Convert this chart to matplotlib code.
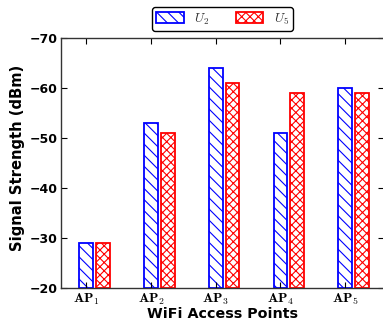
import matplotlib
matplotlib.use("Agg")
import matplotlib.pyplot as plt
import numpy as np

categories = [r"$\mathbf{AP}_1$", r"$\mathbf{AP}_2$", r"$\mathbf{AP}_3$", r"$\mathbf{AP}_4$", r"$\mathbf{AP}_5$"]
u2 = [-29, -53, -64, -51, -60]
u5 = [-29, -51, -61, -59, -59]
yticks = [-70, -60, -50, -40, -30, -20]

plt.rcParams['mathtext.fontset'] = 'cm'
plt.rcParams['hatch.linewidth'] = 0.8

fig = plt.figure(figsize=(3.83, 3.23), dpi=100)
ax = fig.add_axes([61/383, 35/323, (384-61)/383, (288-38)/323])

x = np.arange(len(categories))
base = -20
w = 0.21
ax.bar(x, np.array(u2) - base, bottom=base, width=w, color='white', edgecolor='blue',
       hatch='\\\\\\', linewidth=1.3, label=r'$U_2$')
ax.bar(x + 0.26, np.array(u5) - base, bottom=base, width=w, color='white', edgecolor='red',
       hatch='xxxx', linewidth=1.3, label=r'$U_5$')

ax.set_ylim(-20, -70)
ax.set_xlim(-0.39, 4.6)
ax.set_yticks(yticks)
ax.set_yticklabels([f"\u2212{abs(v)}" for v in yticks], fontweight='bold', fontsize=9)
ax.set_xticks(x)
ax.set_xticklabels(categories, fontsize=10)
ax.tick_params(direction='in', top=True, right=True, length=4, width=0.8)
ax.tick_params(axis='y', pad=2.5)
ax.tick_params(axis='x', pad=2.5)
for s in ax.spines.values():
    s.set_color('#333333')
    s.set_linewidth(1.0)

ax.set_ylabel("Signal Strength (dBm)", fontweight='bold', fontsize=10.6)
ax.yaxis.set_label_coords(-0.112, 0.52)
ax.set_xlabel("WiFi Access Points", fontweight='bold', fontsize=10.3, labelpad=0)

leg = ax.legend(loc='lower center', bbox_to_anchor=(0.5, 1.03), ncol=2, fontsize=9.5,
                fancybox=True, framealpha=1, edgecolor='black', handlelength=2.1,
                handleheight=0.85, handletextpad=0.8, columnspacing=2.0, borderpad=0.3,
                borderaxespad=0)
for t in leg.get_texts():
    t.set_color('#333333')

fig.savefig("out.png", dpi=100)
